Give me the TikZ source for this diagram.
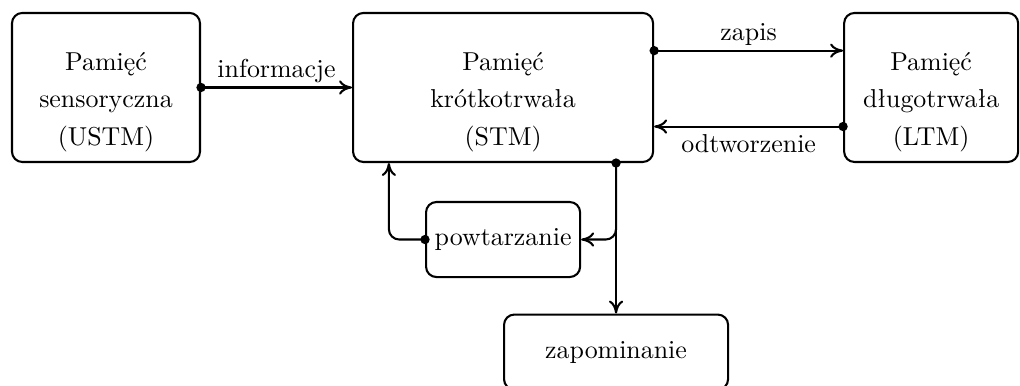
\documentclass[tikz,border=0pt]{standalone}
\usepackage{amsmath}
\usepackage{tikz}
\usetikzlibrary{arrows.meta}
\usetikzlibrary{calc}

\newcommand{\memtext}[1]{\raisebox{-5pt}[\height][\depth]{\renewcommand{\arraystretch}{1.2}\begin{tabular}{@{}c@{}}#1\end{tabular}}}

\tikzset{
  membox/.style={draw, thick, rounded corners=4pt, minimum height=2.022cm},
  procbox/.style={draw, thick, rounded corners=4pt, minimum height=1.018cm},
  flow/.style={thick, -{To[length=5pt,width=5.5pt]}},
}

\begin{document}
\begin{tikzpicture}
\useasboundingbox (0,0) rectangle (13.84,-5.224);
% memory stores
\node[membox, minimum width=2.551cm] (ustm) at (1.438,-1.187) {\memtext{Pamięć\\sensoryczna\\(USTM)}};
\node[membox, minimum width=4.071cm] (stm) at (6.826,-1.187) {\memtext{Pamięć\\krótkotrwała\\(STM)}};
\node[membox, minimum width=2.361cm] (ltm) at (12.634,-1.187) {\memtext{Pamięć\\długotrwała\\(LTM)}};
% processes
\node[procbox, minimum width=2.036cm] (powt) at (6.826,-3.250) {powtarzanie};
\node[procbox, minimum width=3.040cm] (zap) at (8.359,-4.777) {zapominanie};
% connection points
\coordinate (zapisA) at ($(stm.east)+(0,0.5)$);
\coordinate (odtwA) at ($(ltm.west)+(0,-0.53)$);
\coordinate (split) at (stm.south -| zap.north);
\coordinate (back) at ($(stm.south west)+(0.5,0)$);
% draws edges
\draw[flow] (ustm.east) -- node[above, inner sep=1.5pt] {informacje} (stm.west);
\draw[flow] (zapisA) -- node[above, inner sep=1.5pt] {zapis} (zapisA -| ltm.west);
\draw[flow] (odtwA) -- node[below, inner sep=2.5pt] {odtworzenie} (odtwA -| stm.east);
\draw[flow] (split) -- (zap.north);
\draw[flow, rounded corners=4pt] (split) |- (powt.east);
\draw[flow, rounded corners=4pt] (powt.west) -| (back);
% draws dots
\fill (ustm.east) circle (1.8pt);
\fill (zapisA) circle (1.8pt);
\fill (odtwA) circle (1.8pt);
\fill (split) circle (1.8pt);
\fill (powt.west) circle (1.8pt);
\end{tikzpicture}
\end{document}
